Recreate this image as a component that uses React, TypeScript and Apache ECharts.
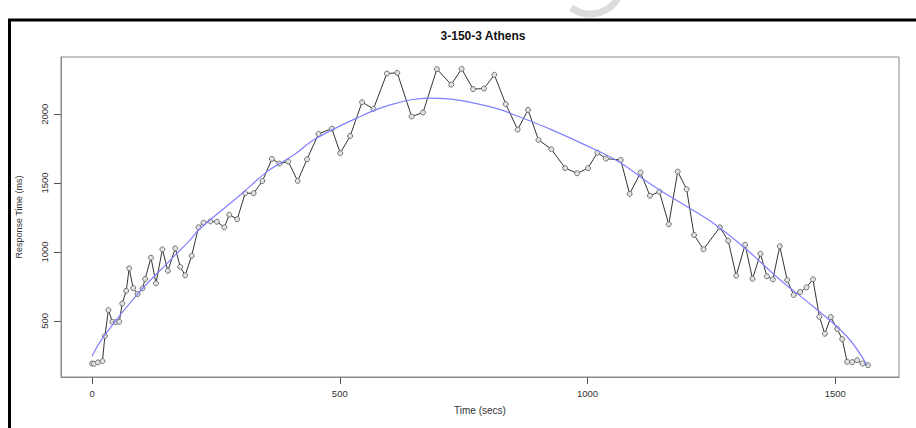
import React, { useEffect, useRef } from "react";
import * as echarts from "echarts";

const chartTitle = "3-150-3 Athens";
const xAxisTitle = "Time (secs)";
const yAxisTitle = "Response Time (ms)";
const xTicks = [0, 500, 1000, 1500];
const yTicks = [500, 1000, 1500, 2000];

const times = [
  0, 4, 12, 21, 26, 33, 41, 48, 55, 61,
  69, 75, 83, 92, 102, 107, 119, 129, 142, 153,
  168, 178, 188, 201, 215, 225, 239, 252, 267, 277,
  293, 309, 326, 344, 363, 378, 396, 415, 434, 457,
  484, 501, 521, 545, 568, 595, 616, 645, 668, 696,
  725, 746, 769, 791, 812, 835, 859, 880, 901, 927,
  955, 979, 1001, 1020, 1037, 1067, 1085, 1107, 1126, 1145,
  1164, 1182, 1200, 1215, 1234, 1267, 1284, 1300, 1318, 1333,
  1349, 1362, 1374, 1388, 1403, 1416, 1429, 1442, 1455, 1468,
  1479, 1491, 1504, 1514, 1524, 1534, 1544, 1555, 1566,
];

const responseTimes = [
  190, 188, 198, 207, 389, 578, 493, 491, 493, 626,
  718, 881, 738, 694, 735, 803, 958, 772, 1019, 863,
  1026, 892, 830, 972, 1179, 1212, 1222, 1219, 1179, 1270,
  1237, 1426, 1426, 1515, 1675, 1641, 1656, 1515, 1673, 1857,
  1895, 1717, 1842, 2087, 2039, 2295, 2300, 1983, 2012, 2327,
  2215, 2329, 2182, 2186, 2286, 2073, 1888, 2031, 1813, 1746,
  1608, 1571, 1608, 1721, 1677, 1668, 1421, 1576, 1408, 1437,
  1201, 1583, 1455, 1123, 1019, 1179, 1081, 827, 1052, 805,
  987, 823, 801, 1041, 796, 687, 709, 743, 801, 529,
  406, 527, 440, 367, 202, 200, 214, 190, 178,
];

const smoothTimes = [
  0, 23, 90, 158, 178, 198, 215, 299, 353, 380, 410, 447, 534, 602, 682,
  736, 814, 861, 928, 995, 1063, 1130, 1187, 1254, 1322, 1389, 1456, 1524, 1564,
];
const smoothValues = [
  243, 384, 687, 941, 1014, 1087, 1159, 1413, 1583, 1644, 1711, 1813, 1971, 2067, 2116,
  2104, 2044, 1983, 1886, 1777, 1655, 1486, 1358, 1208, 1014, 796, 602, 384, 178,
];

const FONT = "'Liberation Sans', Arial, Helvetica, sans-serif";

export default function App() {
  const ref = useRef<HTMLDivElement>(null);

  useEffect(() => {
    if (!ref.current) return;
    const chart = echarts.init(ref.current, null, { renderer: "svg" });

    const xMin = Math.min(...times);
    const xMax = Math.max(...times);
    const yMin = Math.min(...responseTimes);
    const yMax = Math.max(...responseTimes);
    const xPad = (xMax - xMin) * 0.04;
    const yPad = (yMax - yMin) * 0.04;
    const plain = (v: number) => String(Math.round(v));

    const option: any = {
      animation: false,
      backgroundColor: "#ffffff",
      textStyle: { fontFamily: FONT },
      title: {
        text: chartTitle,
        left: 478,
        top: 25,
        textAlign: "center",
        textStyle: { fontFamily: FONT, fontSize: 12, fontWeight: "bold", color: "#111" },
      },
      grid: {
        left: 61,
        right: 17,
        top: 57,
        bottom: 51,
        show: true,
        borderColor: "#8a8a8a",
        borderWidth: 1,
        backgroundColor: "transparent",
      },
      xAxis: {
        type: "value",
        min: xMin - xPad,
        max: xMax + xPad,
        name: xAxisTitle,
        nameLocation: "middle",
        nameGap: 28,
        nameTextStyle: { fontFamily: FONT, fontSize: 10, color: "#333" },
        axisLine: { show: true, onZero: false, lineStyle: { color: "#8a8a8a", width: 1 } },
        splitLine: { show: false },
        axisTick: {
          show: true,
          inside: false,
          length: 7,
          customValues: xTicks,
          lineStyle: { color: "#555", width: 1 },
        },
        axisLabel: {
          customValues: xTicks,
          formatter: plain,
          margin: 11,
          fontFamily: FONT,
          fontSize: 9.5,
          color: "#333",
        },
      },
      yAxis: {
        type: "value",
        min: yMin - yPad,
        max: yMax + yPad,
        name: yAxisTitle,
        nameLocation: "middle",
        nameRotate: 90,
        nameGap: 38,
        nameTextStyle: { fontFamily: FONT, fontSize: 9, color: "#333" },
        axisLine: { show: true, onZero: false, lineStyle: { color: "#8a8a8a", width: 1 } },
        splitLine: { show: false },
        axisTick: {
          show: true,
          inside: false,
          length: 7,
          customValues: yTicks,
          lineStyle: { color: "#555", width: 1 },
        },
        axisLabel: {
          customValues: yTicks,
          formatter: plain,
          rotate: 90,
          margin: 12,
          fontFamily: FONT,
          fontSize: 9.5,
          color: "#333",
        },
      },
      graphic: [
        {
          type: "rect",
          shape: { x: 9.5, y: 20, width: 930, height: 440 },
          style: { fill: "none", stroke: "#000", lineWidth: 3 },
          silent: true,
        },
        {
          type: "arc",
          shape: { cx: 590, cy: -18, r: 32, startAngle: 0.35, endAngle: 2.2 },
          style: { fill: "none", stroke: "#dcdcdc", lineWidth: 7 },
          silent: true,
        },
      ],
      series: [
        {
          type: "line",
          data: times.map((t, i) => [t, responseTimes[i]]),
          symbol: "circle",
          symbolSize: 5,
          showSymbol: true,
          lineStyle: { color: "#333", width: 1 },
          itemStyle: { color: "#e2e2e2", borderColor: "#666", borderWidth: 0.9 },
          z: 3,
        },
        {
          type: "line",
          data: smoothTimes.map((t, i) => [t, smoothValues[i]]),
          smooth: 0.4,
          symbol: "none",
          lineStyle: { color: "#8080ff", width: 1.2 },
          z: 4,
        },
      ],
    };

    chart.setOption(option);
    return () => chart.dispose();
  }, []);

  return (
    <div
      ref={ref}
      style={{ position: "fixed", left: 0, top: 0, width: 916, height: 428 }}
    />
  );
}
